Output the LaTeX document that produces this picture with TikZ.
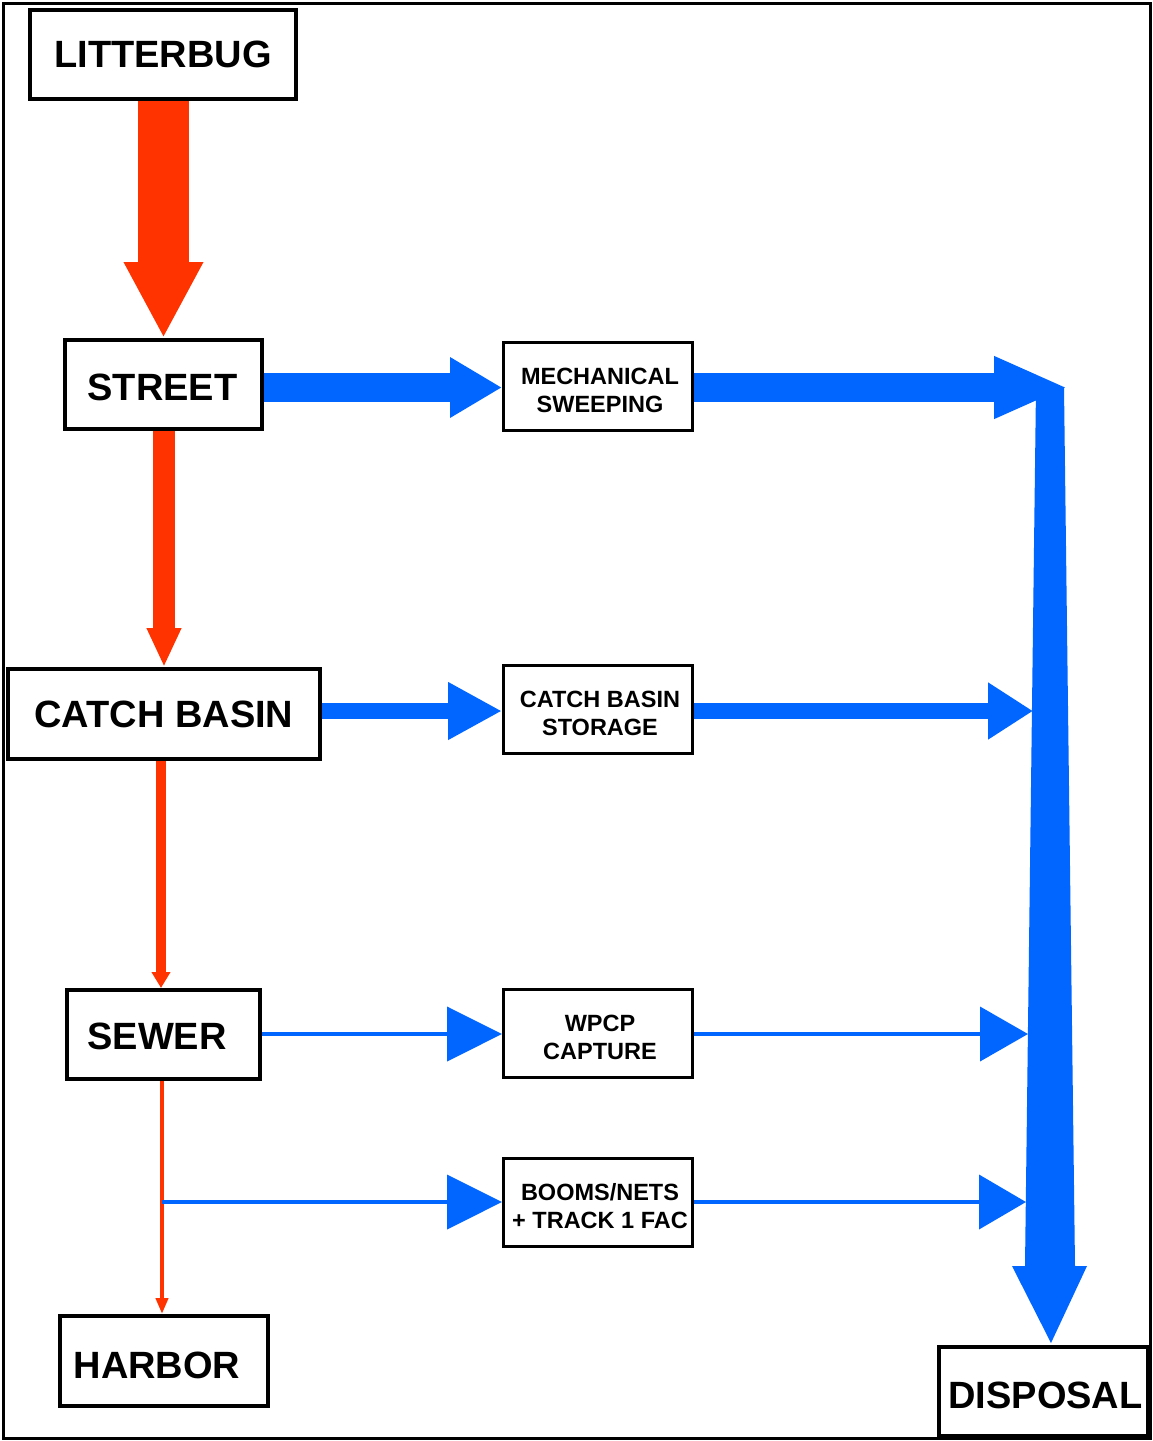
\documentclass[tikz,border=0pt]{standalone}
\usepackage{fontspec}
\setmainfont{Liberation Sans}
\usetikzlibrary{arrows.meta,calc}
\definecolor{litred}{RGB}{255,51,0}
\definecolor{flowblue}{RGB}{0,102,255}
\begin{document}
\begin{tikzpicture}[x=1pt,y=-1pt,
  bigbox/.style={draw=black,line width=4pt,fill=white,inner sep=0pt,
    font=\fontsize{38}{40}\selectfont\bfseries},
  bigtext/.style={font=\fontsize{38}{40}\selectfont\bfseries,inner sep=0pt},
  smallbox/.style={draw=black,line width=3pt,fill=white,inner sep=0pt,
    minimum width=189pt,minimum height=88pt},
  smalltext/.style={font=\fontsize{23.5}{28}\selectfont\bfseries,align=center,inner sep=0pt},
  redflow/.style={draw=litred},
  blueflow/.style={draw=flowblue},
]
\fill[white] (0,0) rectangle (1152,1441);
\useasboundingbox (0,0) rectangle (1152,1441);
\draw[line width=3pt] (3,3) rectangle (1150,1438);

% main column boxes
\node[bigbox,minimum width=266pt,minimum height=89pt] (lit) at (163,54.5) {LITTERBUG};
\node[bigbox,minimum width=197pt,minimum height=89pt] (street) at (163.5,384.5) {};
\node[bigtext] (streettext) at (162.5,387) {STREET};
\node[bigbox,minimum width=312pt,minimum height=90pt] (cb) at (164,714) {CATCH BASIN};
\node[bigbox,minimum width=193pt,minimum height=89pt] (sewer) at (163.5,1034.5) {};
\node[bigtext] (sewertext) at (157,1036) {SEWER};
\node[bigbox,minimum width=208pt,minimum height=90pt] (harbor) at (164,1361) {};
\node[bigtext] (harbortext) at (157,1365) {HARBOR};
\node[bigbox,minimum width=209pt,minimum height=89pt] (disp) at (1043.5,1391.5) {};
\node[bigtext] (disptext) at (1045.5,1395) {DISPOSAL};

% middle column boxes
\node[smallbox] (mech) at (598,386) {};
\node[smalltext] (mechtext) at (600,390) {MECHANICAL\\SWEEPING};
\node[smallbox] (cbs) at (598,709) {};
\node[smalltext] (cbstext) at (600,713) {CATCH BASIN\\STORAGE};
\node[smallbox] (wpcp) at (598,1033) {};
\node[smalltext] (wpcptext) at (600,1037) {WPCP\\CAPTURE};
\node[smallbox] (booms) at (598,1202) {};
\node[smalltext] (boomstext) at (600,1206) {BOOMS/NETS\\+ TRACK 1 FAC};

% coordinates on the collector bar
\coordinate (j1) at (1068,387.5);
\coordinate (j2) at (1033,711);
\coordinate (j3) at (1028,1034);
\coordinate (j4) at (1026,1202);
\coordinate (branch) at (162,1202);

% red flow arrows
\draw[redflow,line width=51pt,-{Triangle[length=76pt,width=74pt]}]
  ($(lit.south)+(0.5,0)$) -- (street.north);
\draw[redflow,line width=22pt,-{Triangle[length=39pt,width=32pt]}]
  ($(street.south)+(0.5,0)$) -- (cb.north);
\draw[redflow,line width=10pt,-{Triangle[length=16pt,width=18pt]}]
  ($(cb.south)+(-3,0)$) -- ($(sewer.north)+(-2.5,0)$);
\draw[redflow,line width=4pt,-{Triangle[length=16pt,width=12pt]}]
  ($(sewer.south)+(-1.5,0)$) -- ($(harbor.north)+(-2,0)$);

% blue flow arrows into middle column
\draw[blueflow,line width=29pt,-{Triangle[length=52pt,width=57pt]}]
  (street.east |- j1) -- (mech.west |- j1);
\draw[blueflow,line width=16pt,-{Triangle[length=54pt,width=54pt]}]
  (cb.east |- j2) -- (cbs.west |- j2);
\draw[blueflow,line width=4pt,-{Triangle[length=55pt,width=54pt]}]
  (sewer.east |- j3) -- (wpcp.west |- j3);
\draw[blueflow,line width=4pt,-{Triangle[length=55pt,width=54pt]}]
  (branch) -- (booms.west);

% blue flow arrows to the collector
\draw[blueflow,line width=29pt,-{Triangle[length=74pt,width=57pt]}]
  (mech.east |- j1) -- (j1);
\draw[blueflow,line width=16pt,-{Triangle[length=45pt,width=54pt]}]
  (cbs.east |- j2) -- (j2);
\draw[blueflow,line width=4pt,-{Triangle[length=48pt,width=54pt]}]
  (wpcp.east |- j3) -- (j3);
\draw[blueflow,line width=4pt,-{Triangle[length=47pt,width=54pt]}]
  (booms.east) -- (j4);

% collector bar to disposal
\fill[flowblue] (1036,387) -- (1064,387) -- (1075,1266) -- (1087,1266)
  -- ($(disp.north)+(7.5,-2)$) -- (1012,1266) -- (1025,1266) -- cycle;
\end{tikzpicture}
\end{document}
